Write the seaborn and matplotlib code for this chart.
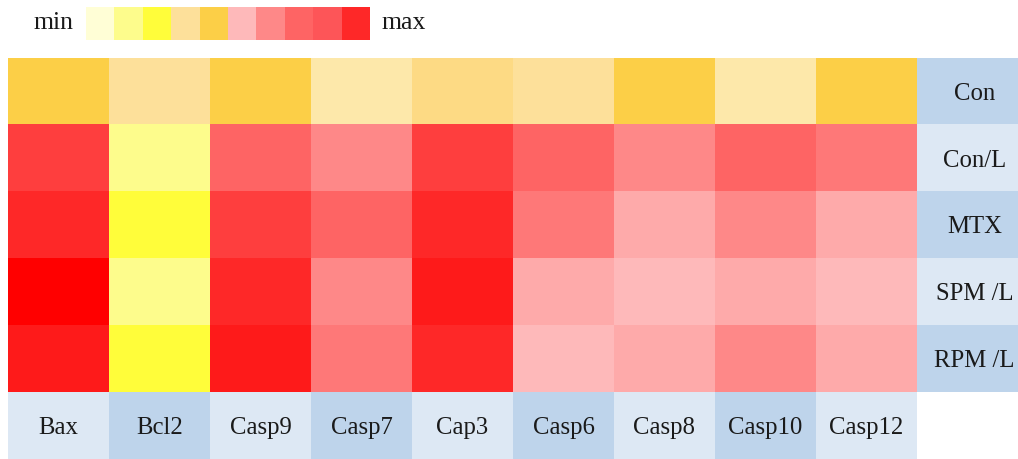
import numpy as np
import matplotlib
matplotlib.use("Agg")
import matplotlib.pyplot as plt
import seaborn as sns
from matplotlib.colors import ListedColormap

# Genes (columns) and treatment groups (rows)
genes = ["Bax", "Bcl2", "Casp9", "Casp7", "Cap3", "Casp6", "Casp8", "Casp10", "Casp12"]
groups = ["Con", "Con/L", "MTX", "SPM /L", "RPM /L"]

# Relative expression level per group (0 = min ... 16 = max)
con = [6, 4, 6, 3, 5, 4, 6, 3, 6]
con_l = [13, 1, 11, 9, 13, 11, 9, 11, 10]
mtx = [14, 2, 13, 11, 14, 10, 8, 9, 8]
spm_l = [16, 1, 14, 9, 15, 8, 7, 8, 7]
rpm_l = [15, 2, 15, 10, 14, 7, 8, 9, 8]

# Colour assigned to each expression level, from min to max
level_colors = [
    "#FFFED6", "#FDFC8C", "#FFFD3A", "#FDE8AA", "#FDE09A", "#FDDA84",
    "#FCCF47", "#FEB9BA", "#FEAAAA", "#FE8888", "#FE7878", "#FE6464",
    "#FD5558", "#FE3E3E", "#FE2828", "#FE1A1A", "#FF0000",
]
# Levels shown in the min..max key
legend_levels = [0, 1, 2, 4, 6, 7, 9, 11, 12, 14]

# Alternating shades of the label cells
row_label_shade = [1, 0, 1, 0, 1]
col_label_shade = [0, 1, 0, 1, 0, 1, 0, 1, 0]
shade_colors = ["#DDE8F4", "#BED4EB"]

serif = ["Liberation Serif", "DejaVu Serif"]
text_color = "#1A1A1A"

W, H = 1018, 459
fig = plt.figure(figsize=(W / 100, H / 100), dpi=100)
fig.patch.set_facecolor("white")


def px_axes(x0, y0, x1, y1):
    return fig.add_axes([x0 / W, 1 - y1 / H, (x1 - x0) / W, (y1 - y0) / H])


level_cmap = ListedColormap(level_colors)
n_levels = len(level_colors)

values = np.array([con, con_l, mtx, spm_l, rpm_l], dtype=float)
n_rows, n_cols = values.shape

# Grid with an extra column for group names and an extra row for gene names
grid = np.full((n_rows + 1, n_cols + 1), np.nan)
grid[:n_rows, :n_cols] = values

shade = np.full((n_rows + 1, n_cols + 1), np.nan)
shade[:n_rows, n_cols] = row_label_shade
shade[n_rows, :n_cols] = col_label_shade

ax = px_axes(8, 57.5, 1018, 459)
sns.heatmap(grid, cmap=level_cmap, vmin=-0.5, vmax=n_levels - 0.5, cbar=False,
            xticklabels=False, yticklabels=False, linewidths=0, ax=ax)
sns.heatmap(shade, cmap=ListedColormap(shade_colors), vmin=0, vmax=1, cbar=False,
            xticklabels=False, yticklabels=False, linewidths=0, ax=ax)

# Group names sit a little right of the label column's centre
for i, name in enumerate(groups):
    ax.text(n_cols + 0.57, i + 0.54, name, ha="center", va="center",
            fontsize=17.8, family=serif, color=text_color)
for j, name in enumerate(genes):
    ax.text(j + 0.5, n_rows + 0.54, name, ha="center", va="center",
            fontsize=17.8, family=serif, color=text_color)

# Colour key
lax = px_axes(86, 7, 370, 40)
sns.heatmap(np.array([legend_levels], dtype=float), cmap=level_cmap,
            vmin=-0.5, vmax=n_levels - 0.5, cbar=False,
            xticklabels=False, yticklabels=False, linewidths=0, ax=lax)
fig.text(73 / W, 1 - 23 / H, "min", ha="right", va="center",
         fontsize=18.5, family=serif, color=text_color)
fig.text(382 / W, 1 - 23 / H, "max", ha="left", va="center",
         fontsize=18.5, family=serif, color=text_color)

fig.savefig("out.png", dpi=100, facecolor="white")
